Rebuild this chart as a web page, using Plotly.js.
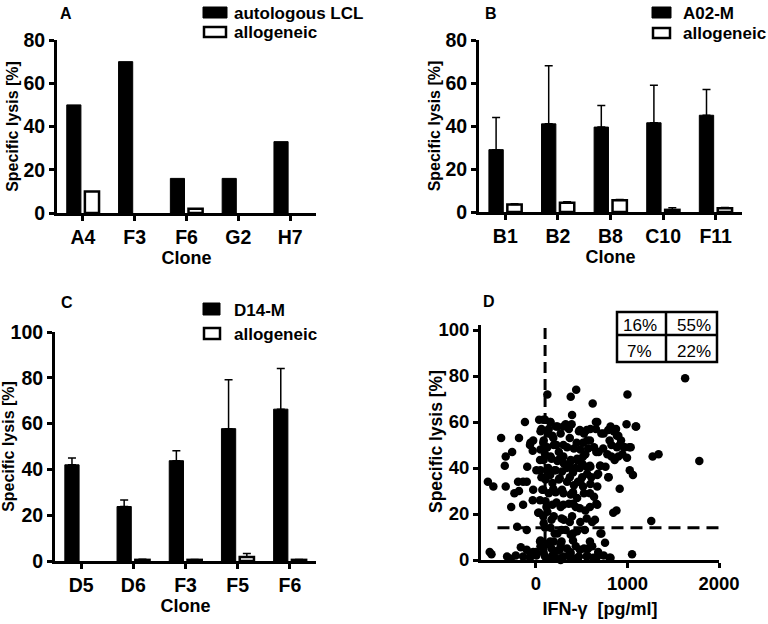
<!DOCTYPE html>
<html>
<head>
<meta charset="utf-8">
<script src="https://cdn.plot.ly/plotly-3.0.1.min.js"></script>
<style>
body { margin: 0; background: #fff; }
#chart { width: 768px; height: 624px; }
</style>
</head>
<body>
<div id="chart"></div>
<script>
// Panel A
var clonesA = ['A4', 'F3', 'F6', 'G2', 'H7'];
var autologousA = [50, 70, 16, 16, 33];
var allogeneicA = [10, 0, 2, 0, 0];

// Panel B
var clonesB = ['B1', 'B2', 'B8', 'C10', 'F11'];
var a02B = [29, 41, 39.5, 41.5, 45];
var a02BErr = [15, 27, 10, 17.5, 12];
var allogeneicB = [3.5, 4.3, 5.5, 1, 1.8];
var allogeneicBErr = [0.3, 0.5, 0.3, 1, 0.3];

// Panel C
var clonesC = ['D5', 'D6', 'F3', 'F5', 'F6'];
var d14C = [42, 23.8, 43.8, 57.8, 66.3];
var d14CErr = [3, 2.8, 4.3, 21.3, 17.8];
var allogeneicC = [0, 0.5, 0.5, 1.8, 0.5];
var allogeneicCErr = [0, 0.3, 0.2, 1.5, 0.2];

// Panel D: IFN-gamma [pg/ml] vs specific lysis [%]
var ifnValues = [
    1630, 1000, 125, 380, 440, 620, 395, 1785, 1275, 1340,
    1260, 1050, 1095, 990, -525, -465, -505, -485, -380, -260,
    -330, -340, -330, -185, -120, -270, -235, -185, -195, -140,
    -140, -95, -100, -205, -165, -315, -220, -275, -60, -35,
    -35, 50, -60,
    35, 100, 155, 220, 300, 390, 480, 555, 655, 655,
    715, 790, 875, 900, 1090, 60, 135, -30, -65, 80,
    190, 225, 300, 370, 445, 515, 590, 570, 660, 735,
    805, 825, 915, 970, 1020, 945, 900, 825, 860, 995,
    1025, 1060, 100, 45, 170, 245, 300, 370, 445, 515,
    590, 700, 5, 135, 205, 335, 405, 480, 555, -100,
    60, 155, 260, 370, 460, 605, 680, 790, 915, -30,
    80, 190, 300, 405, 515, 590, 660, 45, 115, 225,
    300, 405, 480, 590, 880, 845, 25, 80, 170, 280,
    370, 555, 645, 100, 205, 280, 405, 535, 715, 45,
    155, 280, 405, 590, 755, -100, -30, 80, 170, 260,
    370, 480, 570, 680, -140, -65, 5, 100, 190, 280,
    370, 460, 555, 625, 805, 155, 405, 225,
    80, 160, 235, 140, 50, 85, 180, 270, 325, 360,
    470, 525, 560, 595, 670, 740, 815, 850, 885, 930,
    960, 1035, 885, 125, 50, 195, 250, 340, 415, 485,
    540, 635, 685, 780, 85, 160, 235, 305, 380, 450,
    505, 595, 705, 760, 50, 140, 215, 285, 360, 435,
    505, 560, 670, 795, 105, 180, 250, 340, 415, 485,
    595, 670, 70, 140, 215, 285, 380, 450, 525, 635,
    105, 180, 270, 360, 435, 540, 670, 35, 125, 195,
    305, 395, 485, 615, 85, 160, 235, 325, 380, 450,
    705, 50, 125, 195, 270, 340, 435, 525, 615, 0,
    85, 180, 235, 305, 380, 470, 560, 670, 740, 815,
    160, 270, 435
];
var lysisValues = [
    79, 72, 72, 71, 74, 68, 63, 43, 45, 46,
    17, 2.5, 58, 59, 34, 32, 3.5, 2.5, 53, 47,
    45, 41, 32, 53, 60, 23, 29, 30, 34, 34,
    24, 40.5, 13, 14.5, 5.5, 1.5, 2, 0.5, 51, 47.5,
    26, 8.5, 3,
    61, 61, 60, 58, 58, 59, 56.5, 56.5, 60, 57,
    55, 56.5, 57, 54, 58, 57, 55, 52, 50, 51,
    53, 50, 50, 53, 51, 51, 52, 48.5, 47, 48.5,
    52, 50, 50, 49, 49, 46, 45, 45, 43.5, 44.5,
    39, 37, 46, 43.5, 44, 43.5, 45, 42, 43.5, 45,
    41, 41, 39, 40, 39, 40, 38, 40, 40.5, 34,
    36, 37, 35.5, 36, 34, 36, 37.5, 36, 31, 30.5,
    30.5, 31, 29, 29.5, 32, 29, 24.5, 26, 23, 25,
    24, 24.5, 22.5, 23, 21.5, 20.5, 20.5, 19, 17.5, 18,
    16.5, 18, 17.5, 14, 11.5, 13, 11.5, 13, 11.5, 8,
    8, 8, 8.5, 8, 7.5, 4.5, 3.5, 4.5, 5, 4.5,
    3.5, 4.5, 5, 3.5, 1.5, 1, 2, 1.5, 2, 1,
    1.5, 1, 1.5, 1, 1, 0.5, 0.5, 0.5,
    61, 60, 58, 57, 56, 52, 54, 55, 59, 57,
    56, 55, 52, 57, 60, 55, 58, 56, 54, 52,
    49, 49, 49, 49, 48, 50, 47, 49, 48.5, 48,
    46, 49, 47, 46, 43.5, 45, 43, 42, 43.5, 44,
    42, 40.5, 41, 40.5, 39, 37.5, 39, 38.5, 40.5, 40,
    36, 37.5, 37, 36, 35, 33.5, 35, 34, 32.5, 34,
    33, 32, 30.5, 29, 29.5, 30.5, 28.5, 27, 29, 27.5,
    25.5, 24, 23, 24.5, 23, 21.5, 24, 20.5, 21, 19,
    17.5, 19, 16.5, 16.5, 16, 14, 11.5, 13, 11, 12.5,
    11.5, 6, 7, 8, 6.5, 5, 6, 5, 6, 3.5,
    3, 2, 4, 1.5, 3, 1.5, 2, 1.5, 2, 1,
    0.5, 0, 0.5
];
var ifnCutoff = 100;
var lysisCutoff = 14;
var quadrantLabels = ['16%', '55%', '7%', '22%'];

var FONT = 'Liberation Sans, Arial, Helvetica, sans-serif';
var W = 768, H = 624;

// pixel -> paper helpers
function fx(p) { return p / W; }
function fy(p) { return 1 - p / H; }

function font(size, bold) {
    return {family: FONT, size: size, color: 'black', weight: bold ? 'bold' : 'normal'};
}

function upError(err) {
    return {
        type: 'data', symmetric: false, array: err,
        arrayminus: err.map(function() { return 0; }),
        color: 'black', thickness: 1.5, width: 4
    };
}

function barTraces(cats, dark, darkErr, light, lightErr, xa, ya) {
    var t1 = {
        type: 'bar', x: cats, y: dark, xaxis: xa, yaxis: ya, showlegend: false,
        marker: {color: 'black', line: {color: 'black', width: 1}}
    };
    // a zero bar is left out so no outline or error cap shows on the axis
    var t2 = {
        type: 'bar', x: cats, y: light.map(function(v) { return v > 0 ? v : null; }),
        xaxis: xa, yaxis: ya, showlegend: false,
        marker: {color: 'white', line: {color: 'black', width: 2.5}}
    };
    if (darkErr) t1.error_y = upError(darkErr);
    if (lightErr) t2.error_y = upError(lightErr);
    return [t1, t2];
}

function axis(extra) {
    var base = {
        showline: true, linecolor: 'black', linewidth: 3,
        ticks: 'outside', ticklen: 5, tickwidth: 2.5, tickcolor: 'black',
        showgrid: false, zeroline: false, fixedrange: true,
        tickfont: font(19.5, true)
    };
    return Object.assign(base, extra);
}

var data = []
    .concat(barTraces(clonesA, autologousA, null, allogeneicA, null, 'x', 'y'))
    .concat(barTraces(clonesB, a02B, a02BErr, allogeneicB, allogeneicBErr, 'x2', 'y2'))
    .concat(barTraces(clonesC, d14C, d14CErr, allogeneicC, allogeneicCErr, 'x3', 'y3'));

data.push({
    type: 'scatter', mode: 'markers', x: ifnValues, y: lysisValues,
    xaxis: 'x4', yaxis: 'y4', showlegend: false, cliponaxis: false,
    marker: {color: 'black', size: 8.5}
});

var yTitle = {text: 'Specific lysis [%]', font: font(16, true), standoff: 1};
var cloneTitle = {text: 'Clone', font: font(18, true), standoff: 4};

var layout = {
    width: W, height: H,
    margin: {l: 0, r: 0, t: 0, b: 0},
    paper_bgcolor: 'white', plot_bgcolor: 'rgba(0,0,0,0)',
    barmode: 'group', bargap: 0.3, bargroupgap: 0.22,
    showlegend: false,
    xaxis: axis({domain: [fx(57), fx(316)], anchor: 'y', type: 'category', title: cloneTitle}),
    yaxis: axis({domain: [fy(213), fy(40)], anchor: 'x', range: [0, 80], tickvals: [0, 20, 40, 60, 80], title: yTitle}),
    xaxis2: axis({domain: [fx(479), fx(742)], anchor: 'y2', type: 'category', title: cloneTitle}),
    yaxis2: axis({domain: [fy(212), fy(40)], anchor: 'x2', range: [0, 80], tickvals: [0, 20, 40, 60, 80], title: yTitle}),
    xaxis3: axis({domain: [fx(55), fx(316)], anchor: 'y3', type: 'category', title: cloneTitle}),
    yaxis3: axis({domain: [fy(561), fy(332)], anchor: 'x3', range: [0, 100], tickvals: [0, 20, 40, 60, 80, 100], title: yTitle}),
    xaxis4: axis({domain: [fx(481), fx(719)], anchor: 'y4', range: [-600, 2000], tickvals: [0, 1000, 2000],
        tickfont: font(18.5, true),
        title: {text: 'IFN-\u03b3\u00a0 [pg/ml]', font: font(18, true), standoff: 10}}),
    yaxis4: axis({domain: [fy(560), fy(325.4)], anchor: 'x4', range: [0, 102], tickvals: [0, 20, 40, 60, 80, 100],
        tickfont: font(18.5, true)}),
    shapes: [],
    annotations: []
};

// panel D y title sits closer to its tick labels than a standoff allows
layout.annotations.push({
    text: 'Specific lysis [%]', xref: 'paper', yref: 'paper', x: fx(436), y: fy(442),
    xanchor: 'center', yanchor: 'middle', textangle: -90, showarrow: false, font: font(17.5, true)
});

// threshold lines in panel D
layout.shapes.push({
    type: 'line', xref: 'x4', yref: 'y4', x0: ifnCutoff, x1: ifnCutoff, y0: 0, y1: 102,
    layer: 'below', line: {color: 'black', width: 3, dash: '11px,6px'}
});
layout.shapes.push({
    type: 'line', xref: 'x4', yref: 'y4', x0: -420, x1: 2000, y0: lysisCutoff, y1: lysisCutoff,
    layer: 'below', line: {color: 'black', width: 3, dash: '12px,7px'}
});

// panel letters
[['A', 66, 13], ['B', 491, 13], ['C', 67, 302], ['D', 489, 301]].forEach(function(p) {
    layout.annotations.push({
        text: p[0], xref: 'paper', yref: 'paper', x: fx(p[1]), y: fy(p[2]),
        xanchor: 'center', yanchor: 'middle', showarrow: false, font: font(16, true)
    });
});

// hand-drawn legends
function legendItem(x0, x1, y0, y1, filled, label, tx, ty) {
    layout.shapes.push({
        type: 'rect', xref: 'paper', yref: 'paper',
        x0: fx(x0), x1: fx(x1), y0: fy(y1), y1: fy(y0),
        fillcolor: filled ? 'black' : 'white',
        line: {color: 'black', width: filled ? 1 : 2.5}
    });
    layout.annotations.push({
        text: label, xref: 'paper', yref: 'paper', x: fx(tx), y: fy(ty),
        xanchor: 'left', yanchor: 'middle', showarrow: false, font: font(17, true)
    });
}
legendItem(203, 227, 7, 18, true, 'autologous LCL', 232, 13);
legendItem(204, 226, 27, 37, false, 'allogeneic', 232, 32);
legendItem(652, 671, 7, 18, true, 'A02-M', 681, 13);
legendItem(653, 670, 28, 38, false, 'allogeneic', 681, 33);
legendItem(203, 220, 303, 315, true, 'D14-M', 232, 310);
legendItem(204, 220, 328, 339, false, 'allogeneic', 232, 334);

// quadrant table in panel D
layout.shapes.push({type: 'rect', xref: 'paper', yref: 'paper', x0: fx(617), x1: fx(717), y0: fy(362), y1: fy(312),
    line: {color: 'black', width: 2.5}, fillcolor: 'white'});
layout.shapes.push({type: 'line', xref: 'paper', yref: 'paper', x0: fx(666), x1: fx(666), y0: fy(362), y1: fy(312),
    line: {color: 'black', width: 2.5}});
layout.shapes.push({type: 'line', xref: 'paper', yref: 'paper', x0: fx(617), x1: fx(717), y0: fy(335), y1: fy(335),
    line: {color: 'black', width: 2.5}});
[[quadrantLabels[0], 621, 325, 'left'], [quadrantLabels[1], 713, 325, 'right'],
 [quadrantLabels[2], 625, 351, 'left'], [quadrantLabels[3], 713, 351, 'right']].forEach(function(c) {
    layout.annotations.push({
        text: c[0], xref: 'paper', yref: 'paper', x: fx(c[1]), y: fy(c[2]),
        xanchor: c[3], yanchor: 'middle', showarrow: false, font: font(17, false)
    });
});

Plotly.newPlot('chart', data, layout, {displayModeBar: false, responsive: false});
</script>
</body>
</html>
